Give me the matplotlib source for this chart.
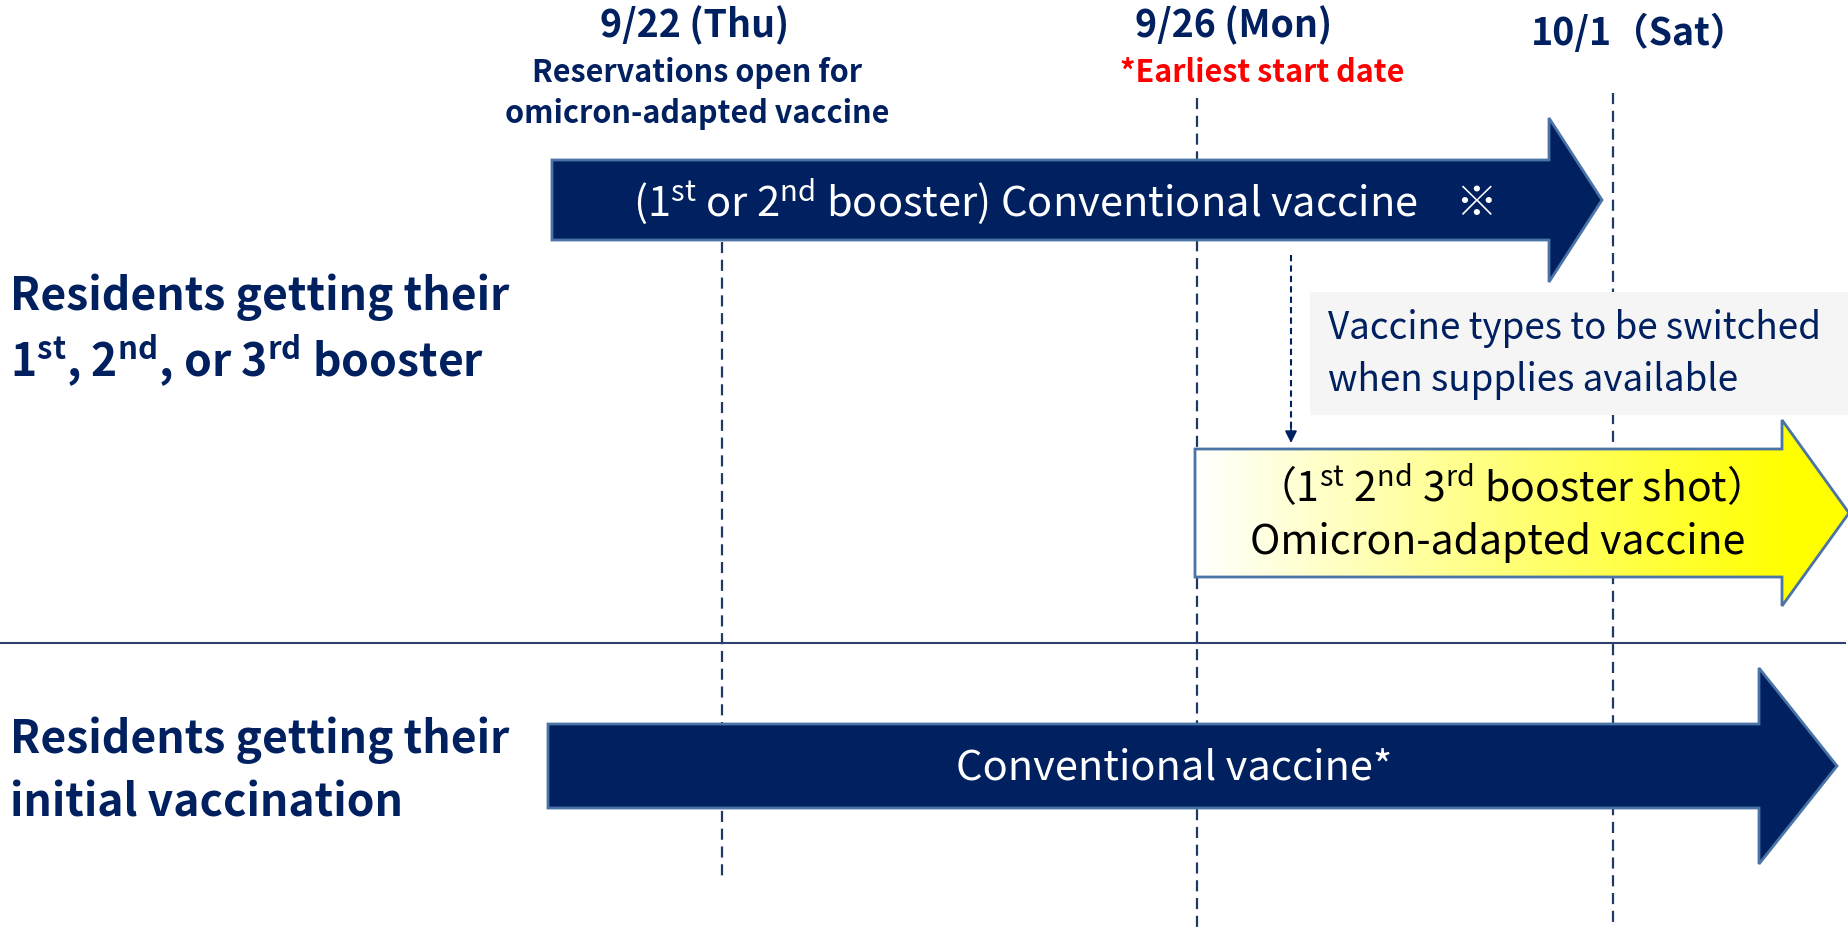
import numpy as np
import matplotlib
matplotlib.use('Agg')
from matplotlib import pyplot as plt
from matplotlib.patches import Polygon, Rectangle

plt.rcParams['font.family'] = ['Noto Sans CJK JP', 'DejaVu Sans']
plt.rcParams['mathtext.fontset'] = 'custom'
plt.rcParams['mathtext.rm'] = 'Noto Sans CJK JP'
plt.rcParams['mathtext.bf'] = 'Noto Sans CJK JP:bold'
plt.rcParams['mathtext.default'] = 'rm'

# text content
dates = ['9/22 (Thu)', '9/26 (Mon)', '10/1（Sat）']
date_notes = [['Reservations open for', 'omicron-adapted vaccine'],
              ['*Earliest start date'],
              []]
note_colors = ['#002060', '#ff0000', '#002060']
group_labels = [['Residents getting their',
                 r'1$^{\mathbf{st}}$, 2$^{\mathbf{nd}}$, or 3$^{\mathbf{rd}}$ booster'],
                ['Residents getting their', 'initial vaccination']]
booster_arrow = r'(1$^{st}$ or 2$^{nd}$ booster) Conventional vaccine    ※'
omicron_arrow = [r'（1$^{st}$ 2$^{nd}$ 3$^{rd}$ booster shot）', 'Omicron-adapted vaccine']
initial_arrow = 'Conventional vaccine*'
switch_note = ['Vaccine types to be switched', 'when supplies available']

navy = '#002060'
edge = '#4a73a6'

fig = plt.figure(figsize=(18.49, 9.30), dpi=100)
ax = fig.add_axes([0, 0, 1, 1])
ax.set_xlim(0, 1849)
ax.set_ylim(930, 0)
ax.axis('off')

# date guide lines
date_x = [722, 1197, 1613]
line_y = [(242, 878), (98, 930), (93, 925)]
for x, (y0, y1) in zip(date_x, line_y):
    ax.plot([x, x], [y0, y1], color='#1f3864', lw=1.6, ls=(0, (5, 3)), zorder=1)

# separator
ax.plot([0, 1845], [643, 643], color='#2f3f6f', lw=1.5, zorder=1)


def arrow_poly(x0, xh, x1, yc, hb, hh):
    return [(x0, yc - hb), (xh, yc - hb), (xh, yc - hh), (x1, yc),
            (xh, yc + hh), (xh, yc + hb), (x0, yc + hb)]


# top navy arrow
ax.add_patch(Polygon(arrow_poly(552, 1549, 1602, 200, 40, 82), closed=True,
                     facecolor=navy, edgecolor=edge, lw=2, zorder=3))
ax.text(1063, 202, booster_arrow, color='white', fontsize=30,
        ha='center', va='center', zorder=4)

# bottom navy arrow
ax.add_patch(Polygon(arrow_poly(548, 1759, 1837, 766, 42, 98), closed=True,
                     facecolor=navy, edgecolor=edge, lw=2, zorder=3))
ax.text(1174, 768, initial_arrow, color='white', fontsize=30,
        ha='center', va='center', zorder=4)

# gray note box
ax.add_patch(Rectangle((1310, 292), 560, 123, facecolor='#f5f5f5',
                       edgecolor='none', zorder=2))
for i, s in enumerate(switch_note):
    ax.text(1328, 328 + i * 52, s, color=navy, fontsize=26.5,
            ha='left', va='center', zorder=4)

# dashed switch arrow
ax.plot([1291, 1291], [255, 428], color=navy, lw=1.5, ls=(0, (3, 2)), zorder=2)
ax.annotate('', xy=(1291, 443), xytext=(1291, 425),
            arrowprops=dict(arrowstyle='-|>', color=navy, lw=1.2,
                            mutation_scale=18, shrinkA=0, shrinkB=0), zorder=2)

# yellow gradient arrow
ypoly = Polygon(arrow_poly(1195, 1782, 1849, 513, 64, 93), closed=True,
                facecolor='none', edgecolor=edge, lw=2, zorder=4)
ax.add_patch(ypoly)
t = np.clip((np.linspace(1195, 1849, 400) - 1195) / (1790 - 1195), 0, 1)
grad = np.ones((2, 400, 3))
grad[:, :, 2] = 1 - t
im = ax.imshow(grad, extent=[1195, 1849, 607, 420], aspect='auto', zorder=3)
im.set_clip_path(ypoly)
for i, s in enumerate(omicron_arrow):
    ax.text(1498, 487 + i * 55, s, color='black', fontsize=29.5,
            ha='center', va='center', zorder=5)

# date headers
head_y = [25, 25, 33]
for x, d, y in zip([695, 1234, 1640], dates, head_y):
    ax.text(x, y, d, color=navy, fontsize=27, fontweight='bold',
            ha='center', va='center')
for x, notes, c in zip([697, 1262], date_notes, note_colors):
    for i, s in enumerate(notes):
        ax.text(x, 73 + i * 41, s, color=c, fontsize=22, fontweight='bold',
                ha='center', va='center')

# row labels
for y0, lines in zip([297, 740], group_labels):
    for i, s in enumerate(lines):
        ax.text(10, y0 + i * 63, s, color=navy, fontsize=32, fontweight='bold',
                ha='left', va='center')

fig.savefig('out.png', dpi=100)
